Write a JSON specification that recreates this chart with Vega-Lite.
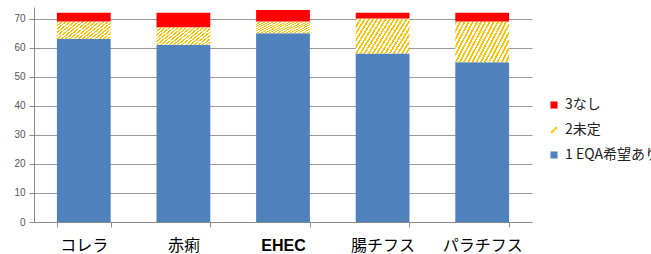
{
  "$schema": "https://vega.github.io/schema/vega-lite/v6.json",
  "autosize": {"type": "none"},
  "width": 498,
  "height": 215,
  "padding": {"left": 34, "top": 7, "right": 119, "bottom": 32},
  "background": "white",
  "config": {"view": {"stroke": null}, "font": "Noto Sans CJK JP"},
  "data": {"values": [
    {"c": "コレラ", "s": "1 EQA希望あり", "k": 1, "v": 63},
    {"c": "コレラ", "s": "2未定", "k": 2, "v": 6},
    {"c": "コレラ", "s": "3なし", "k": 3, "v": 3},
    {"c": "赤痢", "s": "1 EQA希望あり", "k": 1, "v": 61},
    {"c": "赤痢", "s": "2未定", "k": 2, "v": 6},
    {"c": "赤痢", "s": "3なし", "k": 3, "v": 5},
    {"c": "EHEC", "s": "1 EQA希望あり", "k": 1, "v": 65},
    {"c": "EHEC", "s": "2未定", "k": 2, "v": 4},
    {"c": "EHEC", "s": "3なし", "k": 3, "v": 4},
    {"c": "腸チフス", "s": "1 EQA希望あり", "k": 1, "v": 58},
    {"c": "腸チフス", "s": "2未定", "k": 2, "v": 12},
    {"c": "腸チフス", "s": "3なし", "k": 3, "v": 2},
    {"c": "パラチフス", "s": "1 EQA希望あり", "k": 1, "v": 55},
    {"c": "パラチフス", "s": "2未定", "k": 2, "v": 14},
    {"c": "パラチフス", "s": "3なし", "k": 3, "v": 3}
  ]},
  "mark": {"type": "bar"},
  "encoding": {
    "x": {
      "field": "c", "type": "nominal", "sort": null,
      "scale": {"paddingInner": 0.46, "paddingOuter": 0.23},
      "axis": {
        "title": null, "labelAngle": 0, "tickBand": "extent",
        "domainColor": "#8a8a8a", "tickColor": "#8a8a8a", "tickSize": 5,
        "labelFontSize": 16, "labelColor": "#000000", "labelPadding": 10,
        "labelFontWeight": {"condition": {"test": "datum.value === 'EHEC'", "value": "bold"}, "value": "normal"},
        "labelFont": {"condition": {"test": "datum.value === 'EHEC'", "value": "Liberation Sans"}, "value": "Noto Sans CJK JP"}
      }
    },
    "y": {
      "field": "v", "type": "quantitative", "stack": "zero",
      "scale": {"domain": [0, 74], "nice": false},
      "axis": {
        "title": null, "values": [0, 10, 20, 30, 40, 50, 60, 70],
        "domainColor": "#8a8a8a", "tickColor": "#8a8a8a", "tickSize": 5,
        "gridColor": "#9a9a9a", "gridWidth": 1,
        "labelFont": "Liberation Sans", "labelFontSize": 10, "labelColor": "#555555", "labelPadding": 4
      }
    },
    "order": {"field": "k", "type": "quantitative", "sort": "ascending"},
    "fill": {
      "condition": {
        "test": "datum.s === '2未定'",
        "value": {
          "gradient": "linear", "x1": 0, "y1": 0, "x2": 1.2069, "y2": 0.4828,
          "stops": [
            {"offset": 0, "color": "#FFC000"}, {"offset": 0.025, "color": "#FFC000"}, {"offset": 0.025, "color": "#ffffff"}, {"offset": 0.05556, "color": "#ffffff"},
            {"offset": 0.05556, "color": "#FFC000"}, {"offset": 0.08056, "color": "#FFC000"}, {"offset": 0.08056, "color": "#ffffff"}, {"offset": 0.11111, "color": "#ffffff"},
            {"offset": 0.11111, "color": "#FFC000"}, {"offset": 0.13611, "color": "#FFC000"}, {"offset": 0.13611, "color": "#ffffff"}, {"offset": 0.16667, "color": "#ffffff"},
            {"offset": 0.16667, "color": "#FFC000"}, {"offset": 0.19167, "color": "#FFC000"}, {"offset": 0.19167, "color": "#ffffff"}, {"offset": 0.22222, "color": "#ffffff"},
            {"offset": 0.22222, "color": "#FFC000"}, {"offset": 0.24722, "color": "#FFC000"}, {"offset": 0.24722, "color": "#ffffff"}, {"offset": 0.27778, "color": "#ffffff"},
            {"offset": 0.27778, "color": "#FFC000"}, {"offset": 0.30278, "color": "#FFC000"}, {"offset": 0.30278, "color": "#ffffff"}, {"offset": 0.33333, "color": "#ffffff"},
            {"offset": 0.33333, "color": "#FFC000"}, {"offset": 0.35833, "color": "#FFC000"}, {"offset": 0.35833, "color": "#ffffff"}, {"offset": 0.38889, "color": "#ffffff"},
            {"offset": 0.38889, "color": "#FFC000"}, {"offset": 0.41389, "color": "#FFC000"}, {"offset": 0.41389, "color": "#ffffff"}, {"offset": 0.44444, "color": "#ffffff"},
            {"offset": 0.44444, "color": "#FFC000"}, {"offset": 0.46944, "color": "#FFC000"}, {"offset": 0.46944, "color": "#ffffff"}, {"offset": 0.5, "color": "#ffffff"},
            {"offset": 0.5, "color": "#FFC000"}, {"offset": 0.525, "color": "#FFC000"}, {"offset": 0.525, "color": "#ffffff"}, {"offset": 0.55556, "color": "#ffffff"},
            {"offset": 0.55556, "color": "#FFC000"}, {"offset": 0.58056, "color": "#FFC000"}, {"offset": 0.58056, "color": "#ffffff"}, {"offset": 0.61111, "color": "#ffffff"},
            {"offset": 0.61111, "color": "#FFC000"}, {"offset": 0.63611, "color": "#FFC000"}, {"offset": 0.63611, "color": "#ffffff"}, {"offset": 0.66667, "color": "#ffffff"},
            {"offset": 0.66667, "color": "#FFC000"}, {"offset": 0.69167, "color": "#FFC000"}, {"offset": 0.69167, "color": "#ffffff"}, {"offset": 0.72222, "color": "#ffffff"},
            {"offset": 0.72222, "color": "#FFC000"}, {"offset": 0.74722, "color": "#FFC000"}, {"offset": 0.74722, "color": "#ffffff"}, {"offset": 0.77778, "color": "#ffffff"},
            {"offset": 0.77778, "color": "#FFC000"}, {"offset": 0.80278, "color": "#FFC000"}, {"offset": 0.80278, "color": "#ffffff"}, {"offset": 0.83333, "color": "#ffffff"},
            {"offset": 0.83333, "color": "#FFC000"}, {"offset": 0.85833, "color": "#FFC000"}, {"offset": 0.85833, "color": "#ffffff"}, {"offset": 0.88889, "color": "#ffffff"},
            {"offset": 0.88889, "color": "#FFC000"}, {"offset": 0.91389, "color": "#FFC000"}, {"offset": 0.91389, "color": "#ffffff"}, {"offset": 0.94444, "color": "#ffffff"},
            {"offset": 0.94444, "color": "#FFC000"}, {"offset": 0.96944, "color": "#FFC000"}, {"offset": 0.96944, "color": "#ffffff"}, {"offset": 1, "color": "#ffffff"}
          ]
        }
      },
      "field": "s", "type": "nominal",
      "scale": {"domain": ["3なし", "2未定", "1 EQA希望あり"], "range": ["#FF0000", "#FFC000", "#4F81BD"]},
      "legend": {
        "title": null, "orient": "none", "legendX": 513, "legendY": 91,
        "padding": 0, "rowPadding": 11, "labelFontSize": 14, "labelColor": "#222222",
        "labelFont": "Noto Sans CJK JP", "labelLimit": 300, "symbolSize": 50, "labelOffset": 4,
        "encode": {
          "symbols": {
            "update": {
              "shape": {"signal": "datum.value === '2未定' ? 'M-0.8,0.8L0.1,-0.1M0.2,-0.2L0.8,-0.8' : 'square'"},
              "stroke": {"signal": "datum.value === '2未定' ? '#FFC000' : null"},
              "strokeWidth": {"signal": "datum.value === '2未定' ? 2 : 0"}
            }
          }
        }
      }
    }
  }
}
